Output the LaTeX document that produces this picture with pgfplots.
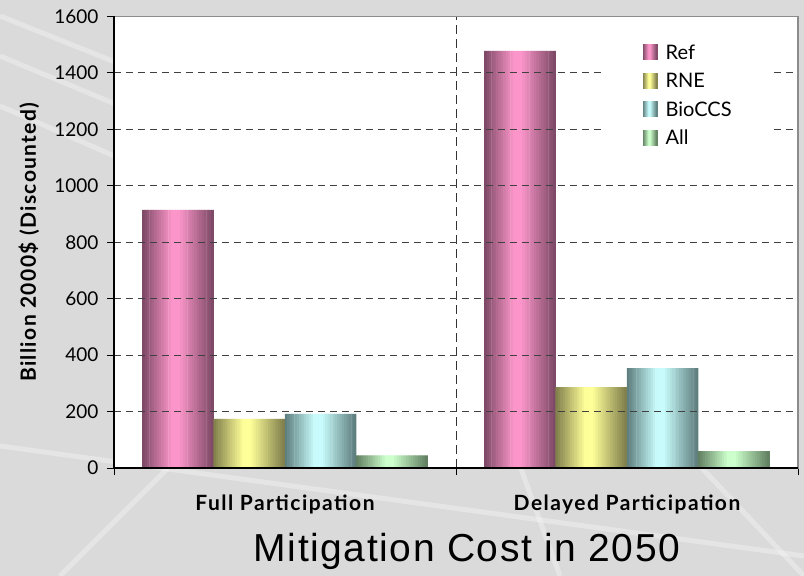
\documentclass[border=0pt]{standalone}
\usepackage{pgfplots}
\usepackage{pgfplotstable}
\pgfplotsset{compat=1.18}
\usepackage{fontspec}
\setmainfont{Lato}
\newfontfamily\titlefont{Liberation Sans}
\definecolor{bgray}{HTML}{DADADA}
\definecolor{refdark}{HTML}{7A4763}
\definecolor{reflight}{HTML}{FC96CA}
\definecolor{rnedark}{HTML}{7E7C4A}
\definecolor{rnelight}{HTML}{FFFF99}
\definecolor{biodark}{HTML}{5C7B7B}
\definecolor{biolight}{HTML}{C8FCFC}
\definecolor{alldark}{HTML}{5F7D5F}
\definecolor{alllight}{HTML}{CCFFCC}
\definecolor{bordergray}{HTML}{8C8C8C}

% mitigation cost, billion 2000$ (discounted)
\pgfplotstableread{
x ref  rne bio all
0 915  174 192 45
1 1478 287 354 60
}\costs

% share of the light colour across a bar, t from 0 (left) to 1 (right)
\newcommand\shine[1]{%
  \pgfmathsetmacro\barpp{#1<0.42 ? 100*#1/0.42 :
    (#1<0.52 ? 100 : 100*(1-#1)/0.48)}}

% one series drawn as 30 thin strips, to give the bars their shine
% #1 column, #2 dark colour, #3 light colour, #4 bar centre shift
\newcommand\shadedbars[4]{%
  \pgfplotsinvokeforeach{0,...,29}{%
    \pgfmathsetmacro\tpos{(##1+0.5)/30}%
    \shine{\tpos}%
    \pgfmathsetmacro\barsh{#4 - 0.10425 + (##1+0.5)*0.00695}%
    \edef\next{\noexpand\addplot[forget plot, fill=#3!\barpp!#2,
      draw=none, bar shift=\barsh,
      bar width=0.0082] table[x=x,y=#1] {\noexpand\costs};}%
    \next
  }%
}

% legend square, same shine
\newcommand\legendbar[2]{%
  \foreach \k in {0,...,13}{%
    \pgfmathsetmacro\tpos{(\k+0.5)/14}%
    \shine{\tpos}%
    \fill[#2!\barpp!#1] (\k bp,-6bp) rectangle ++(1.15bp,15bp);}%
  \path (20bp,0bp);}

\begin{document}
\begin{tikzpicture}
\useasboundingbox (0,0) rectangle (804bp,576bp);
% slide background with a faint texture
\fill[bgray] (0,0) rectangle (804bp,576bp);
\begin{scope}[white, opacity=0.3, line width=5bp]
  \draw (0bp,560bp) -- (300bp,440bp);
  \draw (0bp,520bp) -- (240bp,420bp);
  \draw (0bp,470bp) -- (160bp,400bp);
  \draw (0bp,130bp) -- (804bp,20bp);
  \draw (60bp,0bp) -- (170bp,110bp);
  \draw (560bp,0bp) -- (520bp,110bp);
  \draw (700bp,110bp) -- (804bp,0bp);
\end{scope}

\begin{axis}[
  name=ax,
  at={(114bp,108bp)}, anchor=south west,
  width=684bp, height=451.5bp, scale only axis,
  axis background/.style={fill=white},
  xmin=-0.5, xmax=1.5,
  ymin=0, ymax=1600,
  ybar=0pt,
  ytick={0,200,...,1600},
  xtick={-0.5,0.5,1.5},
  xticklabels={},
  extra x ticks={0,1},
  extra x tick labels={Full Participation, Delayed Participation},
  extra x tick style={major tick length=0pt,
    xticklabel style={font=\fontsize{21bp}{24bp}\selectfont\bfseries
      \addfontfeature{LetterSpace=7}, yshift=-23bp}},
  tick pos=left,
  tick align=outside,
  major tick length=7bp,
  tick style={black, line width=1bp},
  yticklabel style={font=\fontsize{19bp}{22bp}\selectfont, xshift=-5bp},
  /pgf/number format/assume math mode=true,
  /pgf/number format/1000 sep={},
  ymajorgrids,
  major grid style={draw=black!75, line width=1bp, dash pattern=on 7bp off 5bp},
  axis line style={draw=bordergray, line width=1.6bp},
  axis on top,
  ylabel={\bfseries\addfontfeature{LetterSpace=6.5}Billion 2000\$ (Discounted)},
  every axis y label/.style={at={(rel axis cs:0,0.5)}, xshift=-85bp, rotate=90,
    anchor=center, font=\fontsize{21bp}{24bp}\selectfont},
  legend style={at={(rel axis cs:0.715,0.9635)}, anchor=north west,
    draw=none, fill=white, inner xsep=40bp, inner ysep=9bp,
    font=\fontsize{20bp}{24bp}\selectfont, row sep=5.5bp,
    nodes={text height=15bp, text depth=4bp, inner sep=2bp}},
  legend cell align=left,
]

\shadedbars{ref}{refdark}{reflight}{-0.3128}
\shadedbars{rne}{rnedark}{rnelight}{-0.1043}
\shadedbars{bio}{biodark}{biolight}{0.1043}
\shadedbars{all}{alldark}{alllight}{0.3128}

\draw[black!80, line width=1bp, dash pattern=on 9bp off 5bp]
  (axis cs:0.5,0) -- (axis cs:0.5,1600);

\addlegendimage{legend image code/.code={\legendbar{refdark}{reflight}}}
\addlegendentry{Ref}
\addlegendimage{legend image code/.code={\legendbar{rnedark}{rnelight}}}
\addlegendentry{RNE}
\addlegendimage{legend image code/.code={\legendbar{biodark}{biolight}}}
\addlegendentry{BioCCS}
\addlegendimage{legend image code/.code={\legendbar{alldark}{alllight}}}
\addlegendentry{All}
\end{axis}

\draw[black, line width=1.3bp] (ax.north west) -- (ax.south west) -- (ax.south east);

\node[font=\titlefont\fontsize{39bp}{44bp}\selectfont\addfontfeature{LetterSpace=4}]
  at (467bp,25bp) {Mitigation Cost in 2050};
\end{tikzpicture}
\end{document}
